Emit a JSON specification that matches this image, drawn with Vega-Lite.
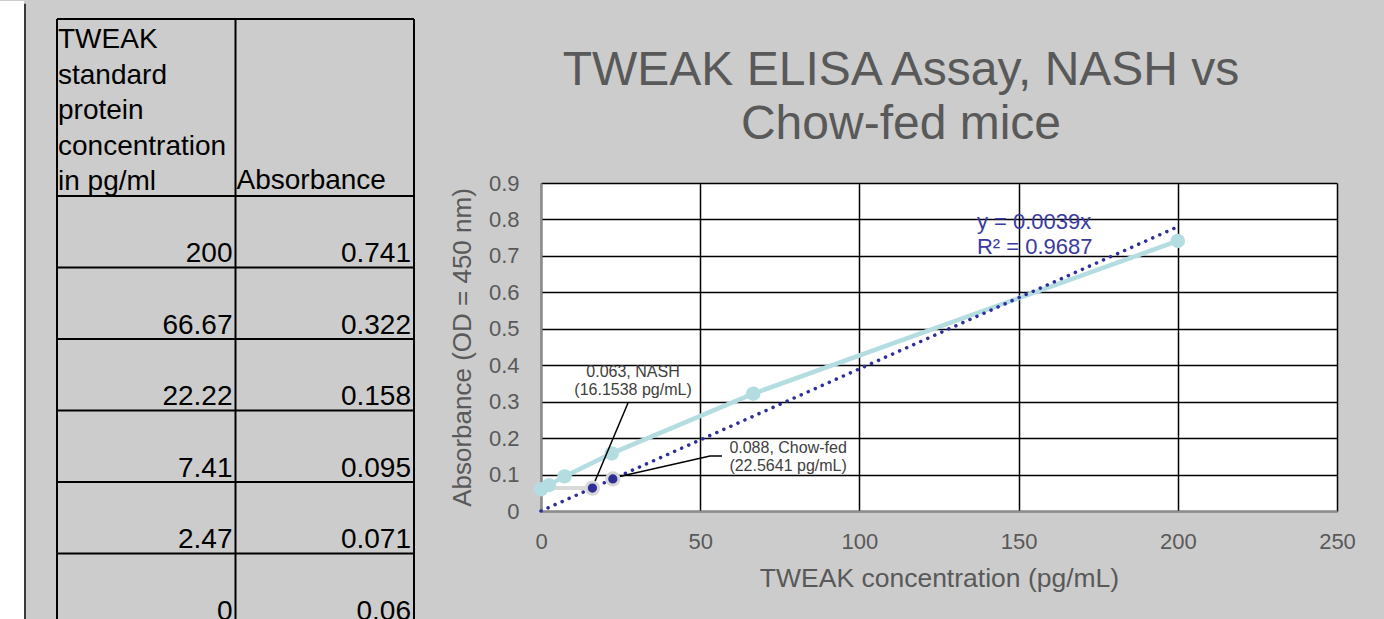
{
  "$schema": "https://vega.github.io/schema/vega-lite/v6.json",
  "background": "#cccccc",
  "padding": {"left": 0, "top": 0, "right": 32, "bottom": 0},
  "spacing": 0,
  "config": {
    "view": {"stroke": null},
    "font": "Liberation Sans",
    "axis": {"labelFont": "Liberation Sans", "titleFont": "Liberation Sans"},
    "title": {"font": "Liberation Sans"}
  },
  "datasets": {
    "standards": [
      {"row": 1, "conc": 200, "abs": 0.741},
      {"row": 2, "conc": 66.67, "abs": 0.322},
      {"row": 3, "conc": 22.22, "abs": 0.158},
      {"row": 4, "conc": 7.41, "abs": 0.095},
      {"row": 5, "conc": 2.47, "abs": 0.071},
      {"row": 6, "conc": 0, "abs": 0.06}
    ],
    "samples": [
      {"group": "NASH", "conc": 16.1538, "abs": 0.063},
      {"group": "Chow-fed", "conc": 22.5641, "abs": 0.088}
    ],
    "callouts": [
      {"group": "NASH", "conc": 28.9, "abs": 0.3814, "label": "0.063, NASH\n(16.1538 pg/mL)"},
      {"group": "Chow-fed", "conc": 77.6, "abs": 0.1729, "label": "0.088, Chow-fed\n(22.5641 pg/mL)"}
    ],
    "equation": [
      {"conc": 136.9, "abs": 0.793, "label": "y = 0.0039x\nR² = 0.9687"}
    ],
    "leaders": [
      {"group": "NASH", "seq": 1, "conc": 27.32, "abs": 0.2963},
      {"group": "NASH", "seq": 2, "conc": 16.33, "abs": 0.0686},
      {"group": "Chow-fed", "seq": 1, "conc": 56.85, "abs": 0.1509},
      {"group": "Chow-fed", "seq": 2, "conc": 53.08, "abs": 0.1509},
      {"group": "Chow-fed", "seq": 3, "conc": 22.61, "abs": 0.0905}
    ],
    "trend": [
      {"conc": 0, "abs": 0},
      {"conc": 200, "abs": 0.78}
    ],
    "nashLevel": [
      {"conc": 0, "abs": 0.063},
      {"conc": 16.1538, "abs": 0.063}
    ],
    "tableCols": [{"col": 0}, {"col": 1}, {"col": 2}],
    "tableEdges": [{"edge": -2.4755}, {"edge": 0}]
  },
  "hconcat": [
    {
      "width": 449,
      "height": 437,
      "layer": [
        {
          "data": {"values": [{}]},
          "mark": {"type": "rect", "color": "white"},
          "encoding": {
            "x": {"datum": -0.31933, "type": "quantitative", "scale": {"domain": [-0.31933, 2.19608], "nice": false, "zero": false}, "axis": null},
            "x2": {"datum": -0.18487},
            "y": {"datum": -2.7273, "type": "quantitative", "scale": {"domain": [-0.18182, 5.9301], "reverse": true, "nice": false, "zero": false}, "axis": null},
            "y2": {"datum": 5.9301}
          }
        },
        {
          "data": {"values": [{}]},
          "mark": {"type": "rule", "color": "#3a3a3a", "strokeWidth": 2},
          "encoding": {
            "x": {"datum": -0.17927, "type": "quantitative", "scale": {"domain": [-0.31933, 2.19608], "nice": false, "zero": false}, "axis": null},
            "y": {"datum": -2.69, "type": "quantitative", "scale": {"domain": [-0.18182, 5.9301], "reverse": true, "nice": false, "zero": false}, "axis": null},
            "y2": {"datum": 5.93}
          }
        },
        {
          "data": {"name": "tableCols"},
          "mark": {"type": "rule", "color": "black", "strokeWidth": 2},
          "encoding": {
            "x": {"field": "col", "type": "quantitative", "scale": {"domain": [-0.31933, 2.19608], "nice": false, "zero": false}, "axis": null},
            "y": {"datum": -2.4755, "type": "quantitative", "scale": {"domain": [-0.18182, 5.9301], "reverse": true, "nice": false, "zero": false}, "axis": null},
            "y2": {"datum": 5.93}
          }
        },
        {
          "data": {"name": "standards"},
          "mark": {"type": "rule", "color": "black", "strokeWidth": 2},
          "encoding": {
            "y": {"field": "row", "type": "quantitative", "scale": {"domain": [-0.18182, 5.9301], "reverse": true, "nice": false, "zero": false}, "axis": null},
            "x": {"datum": 0, "type": "quantitative", "scale": {"domain": [-0.31933, 2.19608], "nice": false, "zero": false}, "axis": null},
            "x2": {"datum": 2}
          }
        },
        {
          "data": {"name": "tableEdges"},
          "mark": {"type": "rule", "color": "black", "strokeWidth": 2},
          "encoding": {
            "y": {"field": "edge", "type": "quantitative", "scale": {"domain": [-0.18182, 5.9301], "reverse": true, "nice": false, "zero": false}, "axis": null},
            "x": {"datum": 0, "type": "quantitative", "scale": {"domain": [-0.31933, 2.19608], "nice": false, "zero": false}, "axis": null},
            "x2": {"datum": 2}
          }
        },
        {
          "data": {"values": [{"text": "TWEAK\nstandard\nprotein\nconcentration\nin pg/ml"}]},
          "mark": {"type": "text", "align": "left", "baseline": "alphabetic", "dx": 1, "dy": 29, "fontSize": 28, "lineHeight": 35.5, "lineBreak": "\n", "color": "black", "font": "Liberation Sans"},
          "encoding": {
            "x": {"datum": 0, "type": "quantitative", "scale": {"domain": [-0.31933, 2.19608], "nice": false, "zero": false}, "axis": null},
            "y": {"datum": -2.4755, "type": "quantitative", "scale": {"domain": [-0.18182, 5.9301], "reverse": true, "nice": false, "zero": false}, "axis": null},
            "text": {"field": "text", "type": "nominal"}
          }
        },
        {
          "data": {"values": [{"text": "Absorbance"}]},
          "mark": {"type": "text", "align": "left", "baseline": "alphabetic", "dx": 1, "dy": -7, "fontSize": 28, "color": "black", "font": "Liberation Sans"},
          "encoding": {
            "x": {"datum": 1, "type": "quantitative", "scale": {"domain": [-0.31933, 2.19608], "nice": false, "zero": false}, "axis": null},
            "y": {"datum": 0, "type": "quantitative", "scale": {"domain": [-0.18182, 5.9301], "reverse": true, "nice": false, "zero": false}, "axis": null},
            "text": {"field": "text", "type": "nominal"}
          }
        },
        {
          "data": {"name": "standards"},
          "mark": {"type": "text", "align": "right", "baseline": "alphabetic", "dx": -3, "dy": -5, "fontSize": 28, "color": "black", "font": "Liberation Sans"},
          "encoding": {
            "x": {"datum": 1, "type": "quantitative", "scale": {"domain": [-0.31933, 2.19608], "nice": false, "zero": false}, "axis": null},
            "y": {"field": "row", "type": "quantitative", "scale": {"domain": [-0.18182, 5.9301], "reverse": true, "nice": false, "zero": false}, "axis": null},
            "text": {"field": "conc", "type": "quantitative", "format": "~r"}
          }
        },
        {
          "data": {"name": "standards"},
          "mark": {"type": "text", "align": "right", "baseline": "alphabetic", "dx": -3, "dy": -5, "fontSize": 28, "color": "black", "font": "Liberation Sans"},
          "encoding": {
            "x": {"datum": 2, "type": "quantitative", "scale": {"domain": [-0.31933, 2.19608], "nice": false, "zero": false}, "axis": null},
            "y": {"field": "row", "type": "quantitative", "scale": {"domain": [-0.18182, 5.9301], "reverse": true, "nice": false, "zero": false}, "axis": null},
            "text": {"field": "abs", "type": "quantitative", "format": "~r"}
          }
        }
      ]
    },
    {
      "width": 796,
      "height": 328,
      "view": {"fill": "white", "stroke": null},
      "title": {
        "text": ["TWEAK ELISA Assay, NASH vs", "Chow-fed mice"],
        "fontSize": 48,
        "fontWeight": "normal",
        "color": "#595959",
        "lineHeight": 54,
        "anchor": "middle",
        "dx": -38,
        "offset": 23
      },
      "encoding": {
        "x": {"field": "conc", "type": "quantitative",
              "scale": {"domain": [0, 250], "nice": false, "zero": false},
              "axis": {"values": [0, 50, 100, 150, 200, 250], "format": "~r", "grid": true, "gridColor": "black", "gridWidth": 1.5, "gridOpacity": 1,
                       "ticks": false, "tickSize": 0, "labelFontSize": 22, "labelColor": "#595959", "labelPadding": 20, "labelFlush": false,
                       "domainColor": "#8c8c8c", "domainWidth": 2,
                       "title": "TWEAK concentration (pg/mL)", "titleFontSize": 26.5, "titleColor": "#595959", "titleFontWeight": "normal", "titlePadding": 13}},
        "y": {"field": "abs", "type": "quantitative",
              "scale": {"domain": [0, 0.9], "nice": false, "zero": false},
              "axis": {"values": [0, 0.1, 0.2, 0.3, 0.4, 0.5, 0.6, 0.7, 0.8, 0.9], "format": "~r", "grid": true, "gridColor": "black", "gridWidth": 1.5, "gridOpacity": 1,
                       "ticks": false, "tickSize": 0, "labelFontSize": 22, "labelColor": "#595959", "labelPadding": 22, "labelFlush": false,
                       "domainColor": "#8c8c8c", "domainWidth": 2,
                       "title": "Absorbance (OD = 450 nm)", "titleFontSize": 26, "titleColor": "#595959", "titleFontWeight": "normal", "titlePadding": 13}}
      },
      "layer": [
        {
          "data": {"name": "nashLevel"},
          "mark": {"type": "line", "color": "#d9d9d9", "strokeWidth": 4}
        },
        {
          "data": {"name": "standards"},
          "mark": {"type": "line", "color": "#b4dde2", "strokeWidth": 4.5}
        },
        {
          "data": {"name": "standards"},
          "mark": {"type": "point", "shape": "circle", "filled": true, "color": "#b4dde2", "opacity": 1, "size": 210}
        },
        {
          "data": {"name": "trend"},
          "mark": {"type": "line", "color": "#2f2f9c", "strokeWidth": 3.5, "strokeDash": [0.1, 7.6], "strokeCap": "round"}
        },
        {
          "data": {"name": "leaders"},
          "mark": {"type": "line", "color": "black", "strokeWidth": 1.5},
          "encoding": {"detail": {"field": "group"}, "order": {"field": "seq"}}
        },
        {
          "data": {"name": "samples"},
          "mark": {"type": "point", "shape": "circle", "filled": true, "fill": "#2e2e96", "stroke": "#d6d6d6", "strokeWidth": 3, "opacity": 1, "size": 150}
        },
        {
          "data": {"name": "callouts"},
          "mark": {"type": "text", "align": "center", "baseline": "middle", "fontSize": 16, "lineHeight": 18, "lineBreak": "\n", "color": "#404040", "font": "Liberation Sans"},
          "encoding": {"text": {"field": "label", "type": "nominal"}}
        },
        {
          "data": {"name": "equation"},
          "mark": {"type": "text", "align": "left", "baseline": "middle", "fontSize": 22, "lineHeight": 25, "lineBreak": "\n", "color": "#3a3aa0", "font": "Liberation Sans"},
          "encoding": {"text": {"field": "label", "type": "nominal"}}
        }
      ]
    }
  ]
}
